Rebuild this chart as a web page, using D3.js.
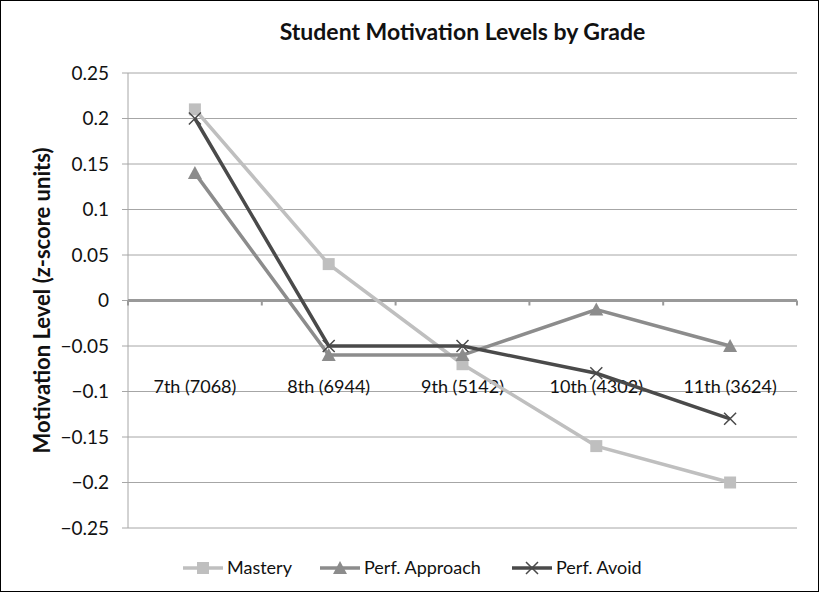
<!DOCTYPE html>
<html>
<head>
<meta charset="utf-8">
<script src="https://cdn.jsdelivr.net/npm/d3@7"></script>
<style>
  body { margin: 0; background: #fff; }
  svg { display: block; font-family: Lato, "Open Sans", sans-serif; }
</style>
</head>
<body>
<div id="chart"></div>
<script>
// Data
const grades = ["7th (7068)", "8th (6944)", "9th (5142)", "10th (4302)", "11th (3624)"];
const mastery = [0.21, 0.04, -0.07, -0.16, -0.20];
const perfApproach = [0.14, -0.06, -0.06, -0.01, -0.05];
const perfAvoid = [0.20, -0.05, -0.05, -0.08, -0.13];
const yTicks = [0.25, 0.2, 0.15, 0.1, 0.05, 0, -0.05, -0.1, -0.15, -0.2, -0.25];

const series = [
    { name: "Mastery", values: mastery, color: "#bfbfbf", marker: "square" },
    { name: "Perf. Approach", values: perfApproach, color: "#8c8c8c", marker: "triangle" },
    { name: "Perf. Avoid", values: perfAvoid, color: "#4a4a4a", marker: "cross" }
];

const width = 819;
const height = 592;
const margin = { top: 73, right: 22, bottom: 64, left: 128 };
const innerWidth = width - margin.left - margin.right;
const innerHeight = height - margin.top - margin.bottom;

const svg = d3.select("#chart")
    .append("svg")
    .attr("width", width)
    .attr("height", height);

// Outer border
svg.append("rect")
    .attr("x", 0.5).attr("y", 0.5)
    .attr("width", width - 1).attr("height", height - 1)
    .attr("fill", "none").attr("stroke", "#000");

const inner = svg.append("g")
    .attr("transform", `translate(${margin.left},${margin.top})`);

const xScale = d3.scaleBand().domain(grades).range([0, innerWidth]);
const yScale = d3.scaleLinear().domain([-0.25, 0.25]).range([innerHeight, 0]);

// Gridlines
inner.selectAll(".grid")
    .data(yTicks)
    .enter()
    .append("line")
    .attr("x1", -6).attr("x2", innerWidth)
    .attr("y1", d => yScale(d)).attr("y2", d => yScale(d))
    .attr("stroke", "#a6a6a6").attr("stroke-width", 1);

// Y axis line
inner.append("line")
    .attr("x1", 0).attr("x2", 0)
    .attr("y1", 0).attr("y2", innerHeight)
    .attr("stroke", "#a6a6a6");

// Y tick labels
const fmt = d => d === 0 ? "0" : (d < 0 ? "\u2212" + String(-d) : String(d));
inner.selectAll(".ylab")
    .data(yTicks)
    .enter()
    .append("text")
    .attr("x", -19)
    .attr("y", d => yScale(d))
    .attr("dy", "0.35em")
    .attr("text-anchor", "end")
    .attr("font-size", 19)
    .attr("fill", "#111")
    .text(fmt);

// Zero axis with category ticks
const zeroY = yScale(0);
inner.append("line")
    .attr("x1", 0).attr("x2", innerWidth)
    .attr("y1", zeroY).attr("y2", zeroY)
    .attr("stroke", "#999").attr("stroke-width", 3);

const boundaries = grades.map(g => xScale(g)).concat([innerWidth]);
inner.selectAll(".xtick")
    .data(boundaries)
    .enter()
    .append("line")
    .attr("x1", d => d).attr("x2", d => d)
    .attr("y1", zeroY).attr("y2", zeroY + 5)
    .attr("stroke", "#999").attr("stroke-width", 2);

// Category labels (sit at the low position)
inner.selectAll(".xlab")
    .data(grades)
    .enter()
    .append("text")
    .attr("x", d => xScale(d) + xScale.bandwidth() / 2)
    .attr("y", yScale(-0.1))
    .attr("dy", "0.1em")
    .attr("text-anchor", "middle")
    .attr("font-size", 18)
    .attr("fill", "#111")
    .text(d => d);

// Marker drawing helper
const drawMarker = (g, type, color, x, y) => {
    if (type === "square") {
        g.append("rect")
            .attr("x", x - 6).attr("y", y - 6)
            .attr("width", 12).attr("height", 12)
            .attr("fill", color);
    } else if (type === "triangle") {
        g.append("path")
            .attr("d", `M${x},${y - 7}L${x + 7},${y + 6}L${x - 7},${y + 6}Z`)
            .attr("fill", color);
    } else {
        g.append("path")
            .attr("d", `M${x - 6},${y - 6}L${x + 6},${y + 6}M${x - 6},${y + 6}L${x + 6},${y - 6}`)
            .attr("stroke", color).attr("stroke-width", 1.5).attr("fill", "none");
    }
};

const line = d3.line()
    .x((d, i) => xScale(grades[i]) + xScale.bandwidth() / 2)
    .y(d => yScale(d));

series.forEach(s => {
    inner.append("path")
        .datum(s.values)
        .attr("d", line)
        .attr("fill", "none")
        .attr("stroke", s.color)
        .attr("stroke-width", 3.5);
});

series.forEach(s => {
    const g = inner.append("g");
    s.values.forEach((v, i) => {
        drawMarker(g, s.marker, s.color, xScale(grades[i]) + xScale.bandwidth() / 2, yScale(v));
    });
});

// Title
svg.append("text")
    .attr("x", margin.left + innerWidth / 2)
    .attr("y", 40)
    .attr("text-anchor", "middle")
    .attr("font-size", 23)
    .attr("font-weight", "bold")
    .attr("fill", "#111")
    .text("Student Motivation Levels by Grade");

// Y axis title
svg.append("text")
    .attr("transform", `translate(50,${margin.top + innerHeight / 2}) rotate(-90)`)
    .attr("text-anchor", "middle")
    .attr("font-size", 22)
    .attr("font-weight", "bold")
    .attr("fill", "#111")
    .text("Motivation Level (z-score units)");

// Legend
const legendY = 568;
const legendX = [183, 320, 512];
series.forEach((s, i) => {
    const g = svg.append("g");
    g.append("line")
        .attr("x1", legendX[i]).attr("x2", legendX[i] + 40)
        .attr("y1", legendY).attr("y2", legendY)
        .attr("stroke", s.color).attr("stroke-width", 3.5);
    drawMarker(g, s.marker, s.color, legendX[i] + 20, legendY);
    g.append("text")
        .attr("x", legendX[i] + 44)
        .attr("y", legendY)
        .attr("dy", "0.35em")
        .attr("font-size", 18)
        .attr("fill", "#111")
        .text(s.name);
});
</script>
</body>
</html>
